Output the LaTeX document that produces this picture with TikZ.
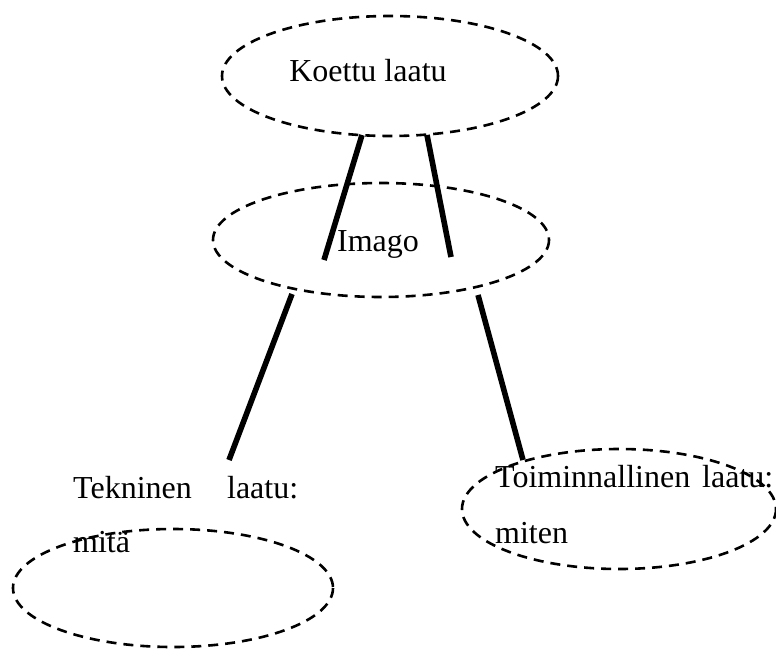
\documentclass[tikz,border=0pt]{standalone}
\usepackage{fontspec}
\setmainfont{Liberation Serif}
\begin{document}
\begin{tikzpicture}[x=1pt,y=-1pt,
  oval/.style={draw,dash pattern=on 10pt off 7pt,line width=2.6pt},
  link/.style={line width=5.6pt},
  lbl/.style={inner sep=0pt,font=\fontsize{32}{38}\selectfont}]
\useasboundingbox (0,0) rectangle (776,648);

% dashed ovals
\draw[oval] (390,76) ellipse [x radius=168, y radius=60];
\draw[oval] (381,240) ellipse [x radius=168, y radius=57];
\draw[oval] (173,588) ellipse [x radius=160, y radius=59];
\draw[oval] (619,509) ellipse [x radius=157, y radius=60];

% labels
\node[lbl,anchor=base] (koettu) at (368,81) {Koettu laatu};
\node[lbl,anchor=base] (imago) at (378,251) {Imago};
\node[lbl,anchor=base west] (tekn) at (73,498) {\makebox[225pt][s]{Tekninen laatu:}};
\node[lbl,anchor=base west] (mita) at (73,552) {mitä};
\node[lbl,anchor=base west] (toim) at (495,487) {\makebox[278pt][s]{Toiminnallinen laatu:}};
\node[lbl,anchor=base west] (miten) at (495,543) {miten};

% end points of the connectors
\coordinate (a1) at (362,135);
\coordinate (a2) at (324,260);
\coordinate (b1) at (427,135);
\coordinate (b2) at (451,257);
\coordinate (c1) at (292,294);
\coordinate (c2) at (229,460);
\coordinate (d1) at (478,295);
\coordinate (d2) at (523,460);

\draw[link] (a1) -- (a2);
\draw[link] (b1) -- (b2);
\draw[link] (c1) -- (c2);
\draw[link] (d1) -- (d2);
\end{tikzpicture}
\end{document}
